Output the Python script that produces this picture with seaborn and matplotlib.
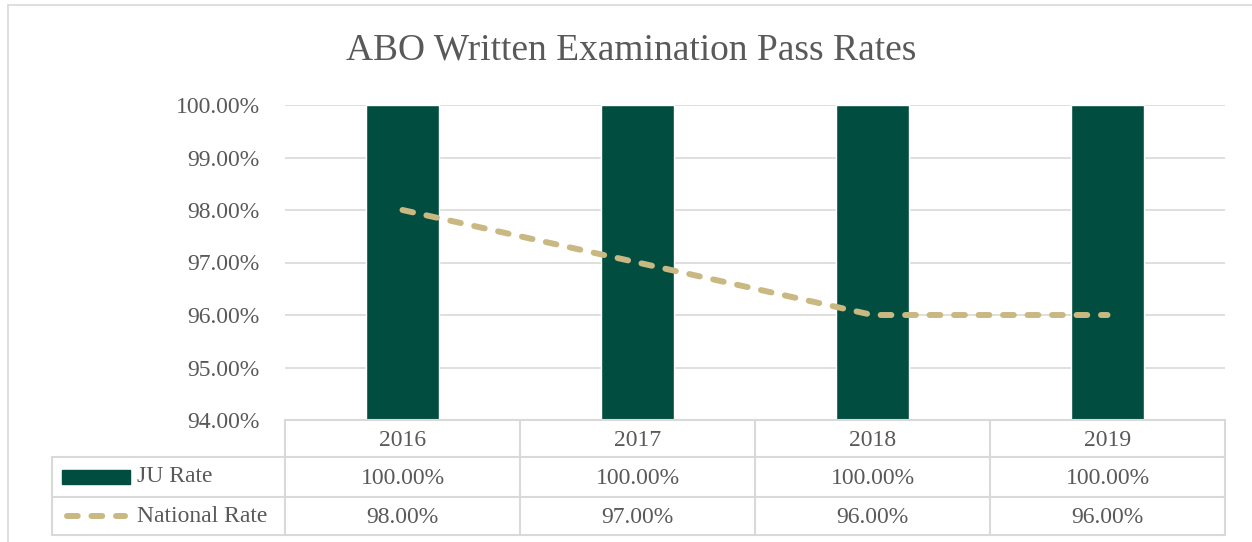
import pandas as pd
import numpy as np
import matplotlib.pyplot as plt
import seaborn as sns

# данные
years = ['2016', '2017', '2018', '2019']
ju_rate = [100.0, 100.0, 100.0, 100.0]
national_rate = [98.0, 97.0, 96.0, 96.0]
y_ticks = [94, 95, 96, 97, 98, 99, 100]

df = pd.DataFrame({'Year': years, 'JU Rate': ju_rate, 'National Rate': national_rate})
df['pos'] = np.arange(len(years))

sns.set_theme(style='white')
plt.rcParams['font.family'] = ['Liberation Serif', 'DejaVu Serif']

W, H = 1252, 542
fig = plt.figure(figsize=(W / 100, H / 100), dpi=100)

bar_color = '#014D40'
line_color = '#C9B882'
grid_color = '#D9D9D9'
text_color = '#595959'

def fx(px):
    return px / W

def fy(py):
    return 1 - py / H

# рамка графика
fig.add_artist(plt.Line2D([fx(8), fx(8)], [fy(5), 0], color=grid_color, lw=1.2))
fig.add_artist(plt.Line2D([fx(8), 1], [fy(5), fy(5)], color=grid_color, lw=1.2))

# заголовок
fig.text(fx(631), fy(50), 'ABO Written Examination Pass Rates', fontsize=27,
         color=text_color, ha='center', va='center')

# основная область
left, right, top, bottom = 285, 1225, 105, 420
ax = fig.add_axes([fx(left), fy(bottom), fx(right - left), (bottom - top) / H])
sns.barplot(data=df, x='pos', y='JU Rate', color=bar_color, width=0.31,
            saturation=1, ax=ax, native_scale=True, zorder=2)
sns.lineplot(data=df, x='pos', y='National Rate', color=line_color, lw=4.3,
             ax=ax, zorder=3, dashes=False)
ax.lines[-1].set_dashes((1.8, 2.3))
ax.lines[-1].set_dash_capstyle('round')
ax.set_xlim(-0.5, 3.5)
ax.set_ylim(94, 100)
ax.set_yticks(y_ticks)
ax.set_yticklabels([f'{v:.2f}%' for v in y_ticks], color=text_color, fontsize=17)
ax.tick_params(axis='y', length=0, pad=18)
ax.set_xticks([])
ax.set_xlabel('')
ax.set_ylabel('')
for v in y_ticks:
    ax.axhline(v, color=grid_color, lw=1.2, zorder=1)
for s in ax.spines.values():
    s.set_visible(False)

# таблица данных
tab = fig.add_axes([fx(left), fy(535), fx(right - left), (535 - bottom) / H])
tab.set_xlim(-0.5, 3.5)
tab.set_ylim(3, 0)
tab.axis('off')
unit = (right - left) / 4
label_left = -0.5 - (left - 52) / unit
rows = [0, 3 * 37 / 115, 3 * 77 / 115, 3]
kw = dict(color=grid_color, lw=1.5, clip_on=False)
tab.plot([-0.5, 3.5], [rows[0]] * 2, **kw)
for r in rows[1:]:
    tab.plot([label_left, 3.5], [r, r], **kw)
for xv in [-0.5, 0.5, 1.5, 2.5, 3.5]:
    tab.plot([xv, xv], [rows[0], rows[3]], **kw)
tab.plot([label_left, label_left], [rows[1], rows[3]], **kw)

mid = [(rows[i] + rows[i + 1]) / 2 for i in range(3)]
for i, yr in enumerate(years):
    tab.text(i, mid[0] + 0.04, yr, ha='center', va='center', fontsize=17, color=text_color)
    tab.text(i, mid[1] + 0.04, f'{ju_rate[i]:.2f}%', ha='center', va='center',
             fontsize=17, color=text_color)
    tab.text(i, mid[2] + 0.04, f'{national_rate[i]:.2f}%', ha='center', va='center',
             fontsize=17, color=text_color)

kx0 = label_left + (62 - 52) / unit
kx1 = label_left + (130 - 52) / unit
tab.add_patch(plt.Rectangle((kx0, mid[1] - 0.17), kx1 - kx0, 0.34, color=bar_color,
                            clip_on=False))
tab.plot([kx0 + 0.02, kx1 - 0.02], [mid[2], mid[2]], color=line_color, lw=4.3,
         dashes=(1.8, 2.3), dash_capstyle='round', clip_on=False)
tab.text(label_left + (137 - 52) / unit, mid[1], 'JU Rate', ha='left', va='center',
         fontsize=17, color=text_color)
tab.text(label_left + (137 - 52) / unit, mid[2], 'National Rate', ha='left', va='center',
         fontsize=17, color=text_color)

fig.savefig('out.png', dpi=100)
